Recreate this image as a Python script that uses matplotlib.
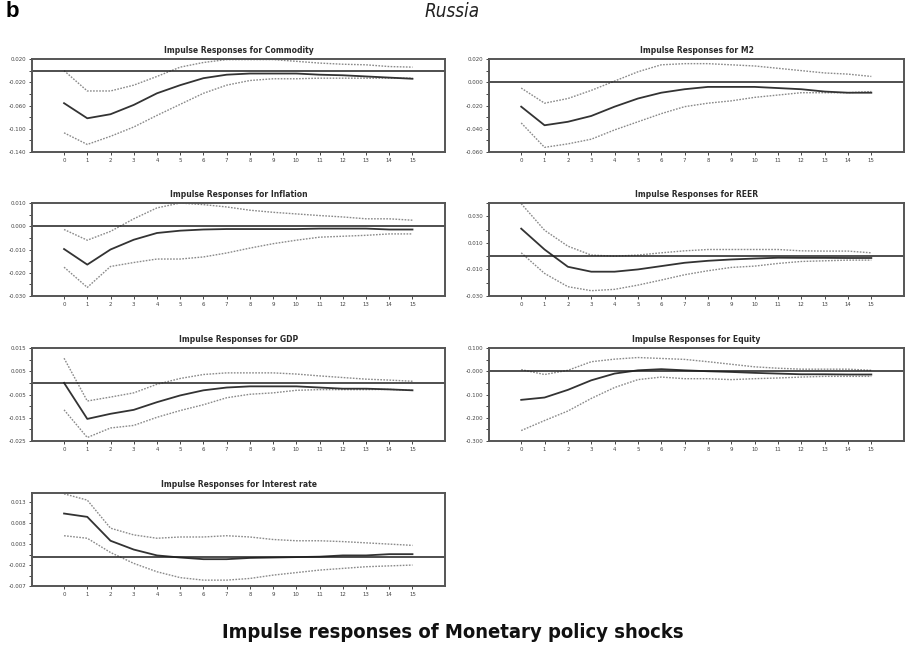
import matplotlib
matplotlib.use("Agg")
import matplotlib.pyplot as plt
import numpy as np

plt.rcParams['font.family'] = ['Liberation Sans', 'DejaVu Sans']

horizon = list(range(16))

# impulse responses: point estimate, upper and lower bands
commodity = [-0.056, -0.082, -0.075, -0.059, -0.039, -0.025, -0.013, -0.007, -0.005, -0.005, -0.005, -0.007, -0.008, -0.010, -0.012, -0.014]
commodity_hi = [0.000, -0.035, -0.035, -0.025, -0.010, 0.006, 0.014, 0.019, 0.019, 0.019, 0.016, 0.013, 0.011, 0.010, 0.007, 0.006]
commodity_lo = [-0.107, -0.127, -0.113, -0.097, -0.077, -0.058, -0.039, -0.025, -0.017, -0.014, -0.014, -0.013, -0.013, -0.013, -0.013, -0.013]

m2 = [-0.021, -0.037, -0.034, -0.029, -0.021, -0.014, -0.009, -0.006, -0.004, -0.004, -0.004, -0.005, -0.006, -0.008, -0.009, -0.009]
m2_hi = [-0.005, -0.018, -0.014, -0.007, 0.001, 0.009, 0.015, 0.016, 0.016, 0.015, 0.014, 0.012, 0.010, 0.008, 0.007, 0.005]
m2_lo = [-0.035, -0.056, -0.053, -0.049, -0.041, -0.034, -0.027, -0.021, -0.018, -0.016, -0.013, -0.011, -0.009, -0.009, -0.009, -0.008]

inflation = [-0.0098, -0.0165, -0.0100, -0.0058, -0.0029, -0.0019, -0.0014, -0.0012, -0.0012, -0.0012, -0.0012, -0.0010, -0.0010, -0.0010, -0.0014, -0.0014]
inflation_hi = [-0.0014, -0.0060, -0.0022, 0.0032, 0.0079, 0.0100, 0.0093, 0.0083, 0.0069, 0.0060, 0.0053, 0.0046, 0.0040, 0.0032, 0.0032, 0.0026]
inflation_lo = [-0.0176, -0.0263, -0.0173, -0.0156, -0.0141, -0.0141, -0.0132, -0.0115, -0.0094, -0.0075, -0.0060, -0.0047, -0.0043, -0.0039, -0.0033, -0.0033]

reer = [0.0207, 0.0050, -0.0080, -0.0117, -0.0117, -0.0100, -0.0075, -0.0050, -0.0035, -0.0025, -0.0018, -0.0012, -0.0013, -0.0013, -0.0014, -0.0014]
reer_hi = [0.0395, 0.0195, 0.0075, 0.0008, 0.0000, 0.0008, 0.0025, 0.0040, 0.0050, 0.0050, 0.0050, 0.0050, 0.0040, 0.0038, 0.0038, 0.0025]
reer_lo = [0.0025, -0.0130, -0.0230, -0.0260, -0.0250, -0.0218, -0.0180, -0.0140, -0.0110, -0.0085, -0.0075, -0.0055, -0.0040, -0.0035, -0.0030, -0.0030]

gdp = [0.0000, -0.0155, -0.0133, -0.0116, -0.0083, -0.0054, -0.0032, -0.0020, -0.0015, -0.0015, -0.0015, -0.0020, -0.0025, -0.0025, -0.0028, -0.0032]
gdp_hi = [0.0106, -0.0078, -0.0061, -0.0043, -0.0006, 0.0019, 0.0036, 0.0043, 0.0043, 0.0043, 0.0038, 0.0030, 0.0023, 0.0016, 0.0012, 0.0007]
gdp_lo = [-0.0116, -0.0235, -0.0194, -0.0183, -0.0148, -0.0119, -0.0094, -0.0064, -0.0049, -0.0043, -0.0032, -0.0029, -0.0029, -0.0029, -0.0028, -0.0032]

equity = [-0.123, -0.113, -0.080, -0.039, -0.010, 0.004, 0.009, 0.004, 0.000, -0.003, -0.007, -0.010, -0.013, -0.013, -0.014, -0.014]
equity_hi = [0.007, -0.014, 0.004, 0.041, 0.052, 0.059, 0.055, 0.051, 0.041, 0.030, 0.019, 0.013, 0.009, 0.009, 0.009, 0.004]
equity_lo = [-0.255, -0.212, -0.171, -0.117, -0.070, -0.036, -0.025, -0.032, -0.032, -0.036, -0.032, -0.029, -0.025, -0.022, -0.022, -0.022]

interest = [0.0103, 0.0095, 0.0038, 0.0017, 0.0003, -0.0002, -0.0006, -0.0006, -0.0003, -0.0002, -0.0001, 0.0000, 0.0003, 0.0003, 0.0006, 0.0006]
interest_hi = [0.0150, 0.0135, 0.0068, 0.0052, 0.0044, 0.0047, 0.0047, 0.0050, 0.0047, 0.0041, 0.0038, 0.0038, 0.0036, 0.0033, 0.0030, 0.0027]
interest_lo = [0.0050, 0.0044, 0.0010, -0.0016, -0.0036, -0.0050, -0.0056, -0.0056, -0.0052, -0.0044, -0.0038, -0.0032, -0.0028, -0.0024, -0.0022, -0.0020]

titles = ["Commodity", "M2", "Inflation", "REER", "GDP", "Equity", "Interest rate"]
ylims = [(-0.140, 0.020), (-0.060, 0.020), (-0.030, 0.010), (-0.030, 0.040),
         (-0.025, 0.015), (-0.300, 0.100), (-0.007, 0.0152)]
ytick_vals = [[0.020, -0.020, -0.060, -0.100, -0.140],
              [0.020, 0.000, -0.020, -0.040, -0.060],
              [0.010, 0.000, -0.010, -0.020, -0.030],
              [0.030, 0.010, -0.010, -0.030],
              [0.015, 0.005, -0.005, -0.015, -0.025],
              [0.100, 0.000, -0.100, -0.200, -0.300],
              [0.013, 0.008, 0.003, -0.002, -0.007]]
ytick_labels = [["0.020", "-0.020", "-0.060", "-0.100", "-0.140"],
                ["0.020", "0.000", "-0.020", "-0.040", "-0.060"],
                ["0.010", "0.000", "-0.010", "-0.020", "-0.030"],
                ["0.030", "0.010", "-0.010", "-0.030"],
                ["0.015", "0.005", "-0.005", "-0.015", "-0.025"],
                ["0.100", "-0.000", "-0.100", "-0.200", "-0.300"],
                ["0.013", "0.008", "0.003", "-0.002", "-0.007"]]
series = [(commodity, commodity_hi, commodity_lo), (m2, m2_hi, m2_lo),
          (inflation, inflation_hi, inflation_lo), (reer, reer_hi, reer_lo),
          (gdp, gdp_hi, gdp_lo), (equity, equity_hi, equity_lo),
          (interest, interest_hi, interest_lo)]

W, H = 905, 653
fig = plt.figure(figsize=(W / 100, H / 100), dpi=100)

narrow = dict(family=["DejaVu Sans"], fontstretch="condensed")

# panel boxes in pixels: left, top, right, bottom
col_x = [(32, 445), (489, 904)]
row_y = [(59, 152), (203, 296), (348, 441), (493, 586)]

for i, name in enumerate(titles):
    r, c = divmod(i, 2)
    x0, x1 = col_x[c]
    y0, y1 = row_y[r]
    ax = fig.add_axes([x0 / W, 1 - y1 / H, (x1 - x0) / W, (y1 - y0) / H])
    mid, hi, lo = series[i]
    ax.plot(horizon, hi, color="#8a8a8a", lw=1.0, ls=(0, (1.2, 1.0)))
    ax.plot(horizon, lo, color="#8a8a8a", lw=1.0, ls=(0, (1.2, 1.0)))
    ax.plot(horizon, mid, color="#333333", lw=1.3)
    ax.axhline(0, color="#1e1e1e", lw=1.1)
    ax.set_xlim(-1.38, 16.4)
    ax.set_ylim(*ylims[i])
    ax.set_xticks(horizon)
    ax.set_xticklabels([str(h) for h in horizon], fontsize=4.3, color="#444444", **narrow)
    yt = ytick_vals[i]
    ax.set_yticks(yt)
    ax.set_yticklabels(ytick_labels[i], fontsize=4.3, color="#444444", **narrow)
    step = abs(yt[0] - yt[1])
    ax.set_yticks(np.arange(yt[-1] + step / 2, ylims[i][1], step), minor=True)
    ax.tick_params(axis="both", which="both", direction="out", length=2.5, width=0.7,
                   colors="#444444", pad=1.5)
    ax.tick_params(axis="y", which="minor", length=2)
    for s in ax.spines.values():
        s.set_color("#555555")
        s.set_linewidth(1.4)
    ax.set_title("Impulse Responses for " + name, fontsize=6.1, fontweight="bold",
                 color="#2a2a2a", pad=4, **narrow)

fig.text(0.006, 0.982, "b", fontsize=16, fontweight="bold", va="center")
fig.text(0.5, 0.982, "Russia", fontsize=13.5, style="italic", ha="center", va="center",
         color="#222222", **narrow)
fig.text(0.5, 0.032, "Impulse responses of Monetary policy shocks", fontsize=14.5,
         fontweight="bold", ha="center", va="center", color="#111111", **narrow)

fig.savefig("out.png", dpi=100)
